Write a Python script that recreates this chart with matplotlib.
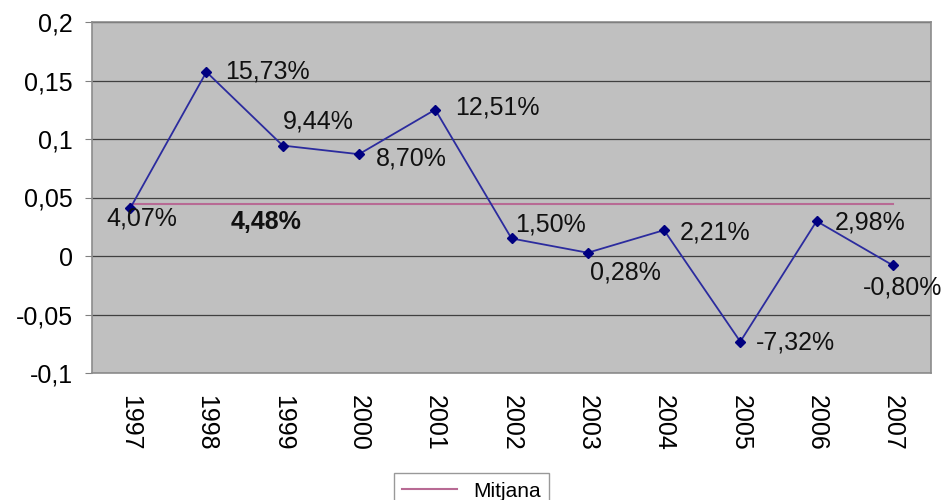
import matplotlib
matplotlib.use("Agg")
import matplotlib.pyplot as plt
import numpy as np

years = ["1997", "1998", "1999", "2000", "2001", "2002", "2003", "2004", "2005", "2006", "2007"]
values = [0.0407, 0.1573, 0.0944, 0.0870, 0.1251, 0.0150, 0.0028, 0.0221, -0.0732, 0.0298, -0.0080]
value_labels = ["4,07%", "15,73%", "9,44%", "8,70%", "12,51%", "1,50%", "0,28%", "2,21%", "-7,32%", "2,98%", "-0,80%"]
mean_value = 0.0448
mean_label = "4,48%"
yticks = [-0.1, -0.05, 0, 0.05, 0.1, 0.15, 0.2]
ytick_labels = ["-0,1", "-0,05", "0", "0,05", "0,1", "0,15", "0,2"]

plt.rcParams['font.family'] = ['Liberation Sans', 'DejaVu Sans']

fig = plt.figure(figsize=(9.47, 5.0), dpi=100)
ax = fig.add_axes([92/947, 1-373/500, (931-92)/947, (373-22)/500])
ax.set_facecolor('#C0C0C0')

x = np.arange(len(years))
ax.plot(x, values, color='#2B2B9E', lw=1.3, marker='D', ms=5,
        mfc='#000080', mec='#000080', zorder=3)
mean_line, = ax.plot([x[0], x[-1]], [mean_value]*2, color='#B86A94', lw=1.5, zorder=2, label='Mitjana')

FS = 18
ax.set_xlim(-0.5, len(years)-0.5)
ax.set_ylim(-0.1, 0.2)
ax.set_yticks(yticks)
ax.set_yticklabels(ytick_labels, fontsize=FS)
ax.set_xticks(x)
ax.set_xticklabels(years, rotation=-90, fontsize=FS)
ax.tick_params(axis='x', length=0, pad=16)
ax.tick_params(axis='y', length=5, color='#808080', direction='out', pad=9)
ax.yaxis.grid(True, color='#404040', lw=0.9)
ax.set_axisbelow(True)
for s in ax.spines.values():
    s.set_color('#8C8C8C')
    s.set_linewidth(1.2)

# label offsets in pixels (dx, dy, ha)
offsets = [(12, -10, 'center'), (19, 0, 'left'), (0, 24, 'left'), (17, -4, 'left'),
           (20, 2, 'left'), (4, 14, 'left'), (2, -20, 'left'), (16, -2, 'left'),
           (16, -1, 'left'), (18, -1, 'left'), (10, -22, 'center')]
for xi, v, lab, (dx, dy, ha) in zip(x, values, value_labels, offsets):
    ax.annotate(lab, (xi, v), xytext=(dx*0.72, dy*0.72), textcoords='offset points',
                ha=ha, va='center', fontsize=FS, color='#111111', annotation_clip=False)

ax.annotate(mean_label, (1.78, mean_value), xytext=(0, -18*0.72), textcoords='offset points',
            ha='center', va='center', fontsize=FS, fontweight='bold', color='#111111')

leg = fig.legend(handles=[mean_line], loc='upper center', bbox_to_anchor=(0.498, 1-463/500),
                 frameon=True, fancybox=False, fontsize=15, handlelength=2.6,
                 borderpad=0.4, edgecolor='#808080')
leg.get_frame().set_linewidth(1.0)

fig.savefig('out.png', dpi=100)
